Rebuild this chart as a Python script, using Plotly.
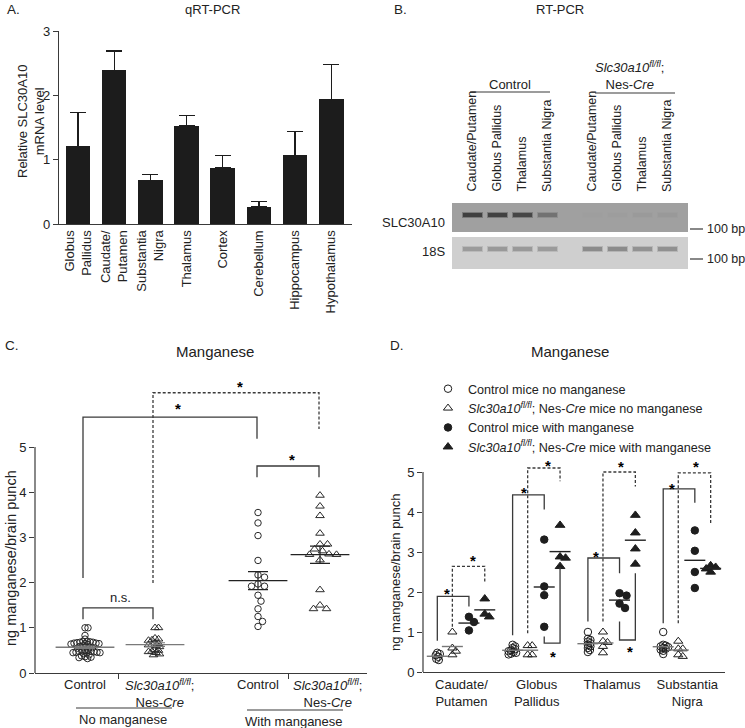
import numpy as np
import plotly.graph_objects as go

W, H = 745, 728
FONT = "Liberation Sans, Arial, Helvetica, sans-serif"
TXT = "#222222"
AX = "#3a3a3a"

# ---------------- Panel A: qRT-PCR ----------------
a_regions = ["Globus<br>Pallidus", "Caudate/<br>Putamen", "Substantia<br>Nigra", "Thalamus",
             "Cortex", "Cerebellum", "Hippocampus", "Hypothalamus"]
a_mrna = [1.21, 2.39, 0.68, 1.53, 0.87, 0.27, 1.07, 1.94]
a_err = [0.52, 0.30, 0.09, 0.16, 0.20, 0.08, 0.37, 0.54]

# ---------------- Panel B: RT-PCR gel ----------------
b_lanes = ["Caudate/Putamen", "Globus Pallidus", "Thalamus", "Substantia Nigra",
           "Caudate/Putamen", "Globus Pallidus", "Thalamus", "Substantia Nigra"]
b_slc_intensity = [0.95, 0.93, 0.88, 0.45, 0.02, 0.03, 0.06, 0.07]
b_18s_intensity = [0.60, 0.62, 0.62, 0.60, 0.78, 0.78, 0.70, 0.72]

# ---------------- Panel C: manganese (whole punch) ----------------
c_groups = ["Control", "<i>Slc30a10</i><sup><i>fl/fl</i></sup>;<br>Nes-<i>Cre</i>",
            "Control", "<i>Slc30a10</i><sup><i>fl/fl</i></sup>;<br>Nes-<i>Cre</i>"]
c_ctrl_no = [1.00, 1.00, 0.83, 0.75,
             0.70, 0.70, 0.69, 0.68, 0.68, 0.67, 0.66, 0.66, 0.65, 0.65, 0.64, 0.63,
             0.60, 0.59, 0.58, 0.57, 0.56, 0.55,
             0.50, 0.50, 0.49, 0.48, 0.48, 0.47, 0.46, 0.46, 0.45, 0.45, 0.44, 0.43,
             0.40, 0.38, 0.36, 0.35, 0.34, 0.32]
c_slc_no = [1.00, 1.00, 0.77, 0.75, 0.73, 0.72, 0.67, 0.65, 0.63, 0.62, 0.60, 0.58,
            0.52, 0.50, 0.48, 0.47, 0.45, 0.42, 0.40]
c_ctrl_mn = [3.55, 3.32, 3.04, 2.49, 2.17, 2.12, 1.97, 1.92, 1.92, 1.72, 1.59, 1.42, 1.25, 1.14, 1.03]
c_slc_mn = [3.93, 3.69, 3.48, 3.09, 2.85, 2.85, 2.74, 2.70, 2.63, 2.62, 2.62, 2.50, 1.84, 1.50, 1.42, 1.42]

# ---------------- Panel D: manganese by region ----------------
d_regions = ["Caudate/<br>Putamen", "Globus<br>Pallidus", "Thalamus", "Substantia<br>Nigra"]
d_ctrl_no = [[0.48, 0.45, 0.42, 0.38, 0.33, 0.30],
             [0.68, 0.64, 0.60, 0.57, 0.54, 0.52, 0.50, 0.48, 0.46, 0.44],
             [1.00, 0.83, 0.80, 0.76, 0.72, 0.68, 0.64, 0.60, 0.55, 0.50],
             [1.00, 0.68, 0.66, 0.64, 0.62, 0.60, 0.58, 0.56, 0.53, 0.45]]
d_slc_no = [[1.00, 0.60, 0.52, 0.43],
            [0.66, 0.66, 0.43, 0.43],
            [1.00, 0.77, 0.74, 0.64, 0.48],
            [0.77, 0.58, 0.58, 0.43, 0.39]]
d_ctrl_mn = [[1.38, 1.25, 1.04],
             [3.31, 2.14, 1.92, 1.13],
             [1.97, 1.91, 1.71, 1.60],
             [3.54, 3.03, 2.50, 2.10]]
d_slc_mn = [[1.83, 1.45, 1.38],
            [3.67, 2.88, 2.85, 2.64],
            [3.92, 3.48, 3.08, 2.70],
            [2.66, 2.62, 2.58, 2.50]]
d_names = ["Control mice no manganese",
           "<i>Slc30a10</i><sup><i>fl/fl</i></sup>; Nes-<i>Cre</i> mice no manganese",
           "Control mice with manganese",
           "<i>Slc30a10</i><sup><i>fl/fl</i></sup>; Nes-<i>Cre</i> mice with manganese"]


# ---------------- layout helpers ----------------
def px(x):
    return x / W


def py(y):
    return 1 - y / H


def dom_x(a, b):
    return [a / W, b / W]


def dom_y(top, bottom):
    return [1 - bottom / H, 1 - top / H]


def swarm_offsets(vals, mindist, ypx, step=0.5):
    """deterministic beeswarm: horizontal pixel offsets so markers don't overlap"""
    placed = []
    offs = [0.0] * len(vals)
    order = sorted(range(len(vals)), key=lambda i: -vals[i])
    for i in order:
        y = vals[i] * ypx
        k = 0
        chosen = None
        while chosen is None:
            cands = [0.0] if k == 0 else [k * step, -k * step]
            for c in cands:
                if all((c - p) ** 2 + (y - q) ** 2 >= mindist ** 2 for p, q in placed):
                    chosen = c
                    break
            k += 1
        placed.append((chosen, y))
        offs[i] = chosen
    return offs


fig = go.Figure()
ann = []
shapes = []


def text(x, y, s, size=13, xanchor="center", yanchor="middle", angle=0, xref="paper", yref="paper",
         color=TXT, **kw):
    ann.append(dict(x=x, y=y, xref=xref, yref=yref, text=s, showarrow=False, xanchor=xanchor,
                    yanchor=yanchor, textangle=angle, font=dict(family=FONT, size=size, color=color), **kw))


def star(x, y, xref, yref):
    text(x, y, "<b>*</b>", size=15, xref=xref, yref=yref, yshift=-4, color="#000000")


def pline(x0, y0, x1, y1, width=1.2, color=AX, dash="solid"):
    shapes.append(dict(type="line", xref="paper", yref="paper", x0=px(x0), y0=py(y0), x1=px(x1), y1=py(y1),
                       line=dict(color=color, width=width, dash=dash)))


# ================= Panel A =================
fig.add_trace(go.Bar(x=a_regions, y=a_mrna, width=0.68, marker=dict(color="#1c1c1c", line_width=0),
                     error_y=dict(type="data", symmetric=False, array=a_err, arrayminus=[0] * len(a_err),
                                  width=8, thickness=1.3, color="#1c1c1c"),
                     xaxis="x", yaxis="y", showlegend=False, hoverinfo="skip"))
text(px(5), py(10), "A.", size=13.5, xanchor="left")
text(px(212), py(10), "qRT-PCR", size=13)
text(px(31), py(122), "Relative SLC30A10<br>mRNA level", size=13, angle=-90)

# ================= Panel B =================
b_lane_x = [0, 1, 2, 3, 4.8, 5.8, 6.8, 7.8]
TOP_BG, BOT_BG = 160, 207
TOP_DARK, BOT_DARK = 58, 120


def gray(v):
    v = int(round(v))
    return f"rgb({v},{v},{v})"


shapes.append(dict(type="rect", xref="paper", yref="paper", x0=px(452), x1=px(688), y0=py(232), y1=py(203),
                   fillcolor=gray(TOP_BG), line_width=0, layer="below"))
shapes.append(dict(type="rect", xref="paper", yref="paper", x0=px(452), x1=px(688), y0=py(269), y1=py(237),
                   fillcolor=gray(BOT_BG), line_width=0, layer="below"))
slc_halo = [gray(TOP_BG - 0.40 * v * (TOP_BG - TOP_DARK)) for v in b_slc_intensity]
slc_core = [gray(TOP_BG - v * (TOP_BG - TOP_DARK)) for v in b_slc_intensity]
s18_halo = [gray(BOT_BG - 0.40 * v * (BOT_BG - BOT_DARK)) for v in b_18s_intensity]
s18_core = [gray(BOT_BG - v * (BOT_BG - BOT_DARK)) for v in b_18s_intensity]
for base, h, wd, cols in [(50.8, 6.4, 0.84, slc_halo), (52.4, 3.2, 0.76, slc_core),
                          (16.8, 6.4, 0.84, s18_halo), (18.4, 3.2, 0.76, s18_core)]:
    fig.add_trace(go.Bar(x=b_lane_x, y=[h] * 8, base=[base] * 8, width=wd,
                         marker=dict(color=cols, line_width=0), xaxis="x2", yaxis="y2",
                         showlegend=False, hoverinfo="skip"))
for lx, name in zip(b_lane_x, b_lanes):
    text(lx, py(197), name, size=12.5, angle=-90, xref="x2", yanchor="bottom", yshift=3)
text(1.5, py(84), "Control", size=13, xref="x2")
pline(470, 92, 550, 92, width=1.2)
text(6.3, py(76), "<i>Slc30a10</i><sup><i>fl/fl</i></sup>;<br>Nes-<i>Cre</i>", size=13, xref="x2")
pline(595, 93, 675, 93, width=1.2)
text(px(447), py(222), "SLC30A10", size=13, xanchor="right")
text(px(447), py(251), "18S", size=13, xanchor="right")
pline(690, 229, 703, 229, width=1.2)
pline(690, 259, 703, 259, width=1.2)
text(px(705), py(229), "100 bp", size=12.5, xanchor="left")
text(px(705), py(259), "100 bp", size=12.5, xanchor="left")
text(px(392), py(10), "B.", size=13.5, xanchor="left")
text(px(560), py(10), "RT-PCR", size=13)

# ================= Panel C =================
C_L, C_R, C_Y0, C_PXU = 35, 367, 673, 45.2
C_XPXU = 100.0
c_x = [0.50, 1.20, 2.23, 2.85]
c_data = [c_ctrl_no, c_slc_no, c_ctrl_mn, c_slc_mn]
c_sym = ["circle-open", "triangle-up-open", "circle-open", "triangle-up-open"]
c_size = [6.5, 7.5, 6.5, 7.5]
c_md = [2.9, 3.3, 6.5, 7.2]
c_meancol = ["#7a7a7a", "#7a7a7a", "#222222", "#222222"]
for gi, vals in enumerate(c_data):
    offs = swarm_offsets(vals, c_md[gi], C_PXU)
    fig.add_trace(go.Scatter(x=[c_x[gi] + o / C_XPXU for o in offs], y=vals, mode="markers",
                             marker=dict(symbol=c_sym[gi], size=c_size[gi], color="#2a2a2a", line=dict(width=1)),
                             xaxis="x3", yaxis="y3", showlegend=False, hoverinfo="skip", cliponaxis=False))
for gi, vals in enumerate(c_data):
    arr = np.array(vals)
    sem = arr.std(ddof=1) / np.sqrt(len(arr))
    fig.add_trace(go.Scatter(x=[c_x[gi]], y=[arr.mean()], mode="markers",
                             marker=dict(symbol="line-ew", size=42, line=dict(width=1.3, color=c_meancol[gi])),
                             error_y=dict(type="data", array=[sem], width=10, thickness=1.2, color=c_meancol[gi]),
                             xaxis="x3", yaxis="y3", showlegend=False, hoverinfo="skip", cliponaxis=False))

# brackets: (left group, right group, left bottom, top, right bottom, star x, star y, dashed)
c_brackets = [(0, 1, 1.19, 1.44, 1.19, None, None, False),
              (0, 2, 2.10, 5.66, 5.18, 1.43, 5.93, False),
              (1, 3, 1.99, 6.20, 5.40, 2.05, 6.42, True),
              (2, 3, 4.33, 4.58, 4.33, 2.57, 4.82, False)]
c_leg_x = [0.48, 1.18, 2.22, 2.84]
for l, r, yl, yt, yr, sx, sy, dashed in c_brackets:
    x0, x1 = c_leg_x[l], c_leg_x[r]
    shapes.append(dict(type="path", xref="x3", yref="y3",
                       path=f"M {x0},{yl} L {x0},{yt} L {x1},{yt} L {x1},{yr}",
                       line=dict(color=AX, width=1.3, dash="3px,2px" if dashed else "solid")))
    if sx is not None:
        star(sx, sy, "x3", "y3")
text(0.85, 1.66, "n.s.", size=13, xref="x3", yref="y3")
pline(C_L, C_Y0 - 5 * C_PXU, C_L, C_Y0, width=1.2)
for gx, lab, xs in zip(c_x, c_groups, [0, 4, 0, 7]):
    text(gx, py(675), lab, size=13, xref="x3", yanchor="top", xshift=xs)
pline(76, 708, 172, 708, width=1.2)
pline(247, 710, 343, 710, width=1.2)
text(px(123), py(719), "No manganese", size=13)
text(px(294), py(721), "With manganese", size=13)
text(px(3), py(345), "C.", size=13.5, xanchor="left")
text(px(215), py(351), "Manganese", size=15)
text(px(11), py(558), "ng manganese/brain punch", size=14.5, angle=-90)

# ================= Panel D =================
D_L, D_R, D_Y0, D_PXU = 423, 725, 672, 40.0
D_XPXU = 75.3
d_off = [-0.32, -0.12, 0.10, 0.31]
d_data = [d_ctrl_no, d_slc_no, d_ctrl_mn, d_slc_mn]
d_sym = ["circle-open", "triangle-up-open", "circle", "triangle-up"]
d_size = [7.5, 8, 7.5, 8.5]
d_md = [2.6, 4.5, 7.0, 5.2]
d_meancol = ["#777777", "#777777", "#222222", "#222222"]
for gi, series in enumerate(d_data):
    xs, ys = [], []
    for ci, vals in enumerate(series):
        offs = swarm_offsets(vals, d_md[gi], D_PXU)
        xs += [ci + 1 + d_off[gi] + o / D_XPXU for o in offs]
        ys += vals
    fig.add_trace(go.Scatter(x=xs, y=ys, mode="markers", name=d_names[gi],
                             marker=dict(symbol=d_sym[gi], size=d_size[gi], color="#1e1e1e",
                                         line=dict(width=1, color="#1e1e1e")),
                             xaxis="x4", yaxis="y4", showlegend=True, hoverinfo="skip", cliponaxis=False))
for gi, series in enumerate(d_data):
    fig.add_trace(go.Scatter(x=[ci + 1 + d_off[gi] for ci in range(len(series))],
                             y=[float(np.mean(v)) for v in series], mode="markers",
                             marker=dict(symbol="line-ew", size=15, line=dict(width=1.4, color=d_meancol[gi])),
                             xaxis="x4", yaxis="y4", showlegend=False, hoverinfo="skip", cliponaxis=False))

# brackets per region: (left g, right g, left bottom, top, right bottom, star x offset, star y, style)
d_brackets = [
    (0, [(0, 2, 0.78, 1.89, 1.64, -0.195, 2.06, "solid"), (1, 3, 1.13, 2.64, 2.22, 0.155, 2.90, "dash")]),
    (1, [(0, 2, 0.92, 4.43, 4.06, -0.17, 4.60, "solid"), (1, 3, 0.97, 5.10, 4.77, 0.15, 5.27, "dash"),
         (2, 3, 0.89, 0.72, 2.62, 0.22, 0.50, "low")]),
    (2, [(0, 2, 1.26, 2.85, 2.47, -0.21, 3.00, "solid"), (1, 3, 1.26, 5.00, 4.64, 0.115, 5.24, "dash"),
         (2, 3, 1.26, 0.80, 2.47, 0.24, 0.62, "low")]),
    (3, [(0, 2, 1.22, 4.58, 4.23, -0.20, 4.68, "solid"), (1, 3, 1.22, 4.98, 3.68, 0.12, 5.24, "dash")]),
]
for ci, blist in d_brackets:
    for l, r, yl, yt, yr, sx, sy, style in blist:
        x0 = ci + 1 + d_off[l]
        x1 = ci + 1 + d_off[r]
        shapes.append(dict(type="path", xref="x4", yref="y4",
                           path=f"M {x0},{yl} L {x0},{yt} L {x1},{yt} L {x1},{yr}",
                           line=dict(color=AX, width=1.3, dash="3px,2px" if style == "dash" else "solid")))
        star(ci + 1 + sx, sy, "x4", "y4")
pline(D_L, D_Y0 - 5 * D_PXU, D_L, D_Y0, width=1.2)
text(px(388), py(345), "D.", size=13.5, xanchor="left")
text(px(570), py(351), "Manganese", size=15)
text(px(395), py(572), "ng manganese/brain punch", size=13, angle=-90)

# ================= layout =================
tickfont = dict(family=FONT, size=13, color=TXT)
common = dict(showgrid=False, zeroline=False, linecolor=AX, linewidth=1.2, tickcolor=AX,
              tickfont=tickfont, ticklen=5, tickwidth=1.2, fixedrange=True, automargin=False)
fig.update_layout(
    template="none",
    width=W, height=H, margin=dict(l=0, r=0, t=0, b=0, pad=0), autosize=False,
    paper_bgcolor="white", plot_bgcolor="white",
    font=dict(family=FONT, size=13, color=TXT),
    barmode="overlay", bargap=0,
    xaxis=dict(domain=dom_x(59, 352), anchor="y", type="category", range=[-0.525, 7.575],
               showline=True, ticks="", tickangle=-90, **common),
    yaxis=dict(domain=dom_y(31, 224), anchor="x", range=[0, 3], tickvals=[0, 1, 2, 3],
               showline=True, ticks="outside", **common),
    xaxis2=dict(domain=dom_x(452, 688), anchor="y2", range=[-0.8, 8.64], visible=False),
    yaxis2=dict(domain=dom_y(203, 269), anchor="x2", range=[0, 66], visible=False),
    xaxis3=dict(domain=dom_x(C_L, C_R), anchor="y3", range=[0, (C_R - C_L) / C_XPXU], showline=True,
                ticks="outside", tickvals=[0.83, 2.53], showticklabels=False, **common),
    yaxis3=dict(domain=dom_y(C_Y0 - 6.6 * C_PXU, C_Y0), anchor="x3", range=[0, 6.6],
                tickvals=[0, 1, 2, 3, 4, 5], showline=False, ticks="outside", **common),
    xaxis4=dict(domain=dom_x(D_L, D_R), anchor="y4", range=[0.49, 0.49 + (D_R - D_L) / D_XPXU],
                showline=True, ticks="", tickvals=[1, 2, 3, 4], ticktext=d_regions, **common),
    yaxis4=dict(domain=dom_y(D_Y0 - 5.45 * D_PXU, D_Y0), anchor="x4", range=[0, 5.45],
                tickvals=[0, 1, 2, 3, 4, 5], showline=False, ticks="outside", **common),
    legend=dict(x=px(428), y=py(374), xanchor="left", yanchor="top", bgcolor="rgba(0,0,0,0)",
                font=dict(family=FONT, size=12.6, color=TXT), tracegroupgap=0, itemwidth=30,
                borderwidth=0),
    annotations=ann, shapes=shapes,
)
fig.write_html("out.html", config={"responsive": False, "displayModeBar": False},
               post_script="document.body.style.margin='0';document.body.style.overflow='hidden';")
